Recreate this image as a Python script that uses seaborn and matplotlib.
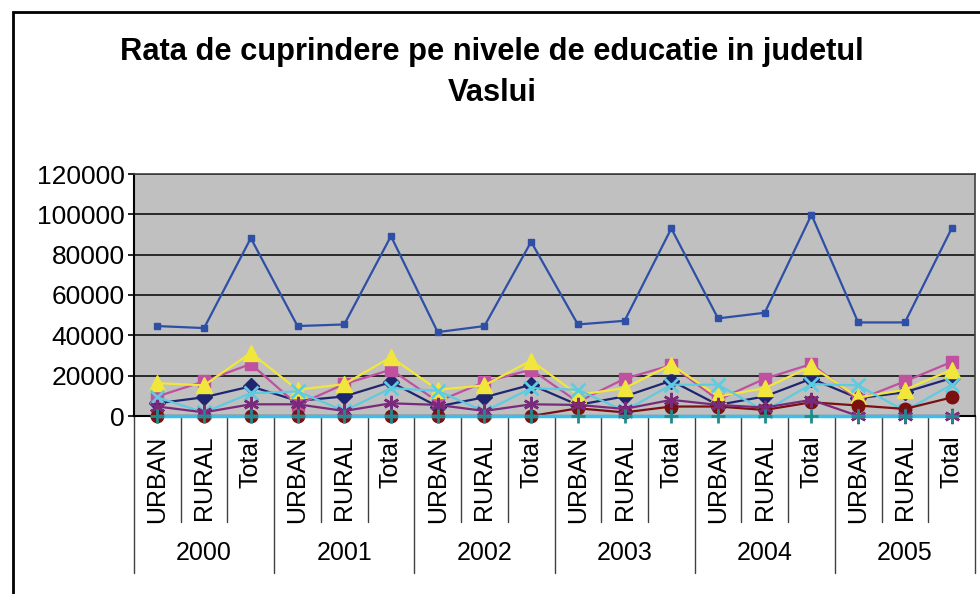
import matplotlib
matplotlib.use("Agg")
import matplotlib.pyplot as plt
import matplotlib.patches as mpatches
import numpy as np
import pandas as pd
import seaborn as sns

# Data
years = ["2000", "2001", "2002", "2003", "2004", "2005"]
areas = ["URBAN", "RURAL", "Total"]

total = [44600, 43600, 88200, 44600, 45400, 89200, 41600, 44600, 86400,
         45400, 47200, 93000, 48400, 51200, 99800, 46400, 46400, 93000]
navy = [6300, 9300, 14700, 7500, 9700, 16800, 4700, 9300, 15500,
        5500, 9700, 17500, 5500, 9700, 18500, 8800, 11800, 18800]
magenta = [9700, 17200, 25800, 5500, 15800, 23000, 7200, 16800, 23000,
           7000, 18500, 25200, 8000, 18500, 25800, 8000, 17200, 26800]
yellow = [16300, 15200, 31300, 13000, 15800, 29200, 13000, 15200, 27500,
          10500, 13800, 25500, 9700, 13800, 24700, 9200, 13000, 23000]
cyan = [9200, 1800, 11300, 12200, 2500, 13800, 12500, 2200, 13800,
        13000, 2500, 15500, 15500, 2500, 15800, 15200, 2500, 15500]
purple = [4700, 1800, 5800, 5800, 2500, 6300, 5500, 2500, 5800,
          5500, 3500, 8000, 5500, 4200, 8000, 0, 0, 0]
maroon = [0, 0, 0, 0, 0, 0, 0, 0, 0,
          3800, 1800, 4700, 4700, 3000, 6800, 5200, 3500, 9200]
teal = [0] * 18

series = [
    ("navy", navy, "#1F2670", "D", 8, 1.0),
    ("magenta", magenta, "#C050A0", "s", 9, 1.0),
    ("yellow", yellow, "#F0E63C", "^", 11, 1.0),
    ("cyan", cyan, "#5FCBE0", "x", 10, 2.0),
    ("maroon", maroon, "#7A1010", "o", 9, 1.0),
    ("purple", purple, "#7A2A7A", (6, 2, 0), 11, 1.8),
    ("teal", teal, "#3DBDE9", "+", 10, 2.0),
    ("total", total, "#2E4FA6", "s", 4.5, 1.0),
]

sns.set_style("white")
plt.rcParams["font.family"] = ["Liberation Sans", "DejaVu Sans"]
plt.rcParams["text.color"] = "black"
plt.rcParams["xtick.color"] = "black"
plt.rcParams["ytick.color"] = "black"

fig = plt.figure(figsize=(9.8, 5.94), dpi=100)
ax = fig.add_axes([134 / 980, 1 - 416 / 594, 841 / 980, 242 / 594])
ax.set_facecolor("#C0C0C0")

x = np.arange(len(years) * len(areas))
for name, vals, color, marker, msize, mew in series:
    df = pd.DataFrame({"x": x, "y": vals})
    mcolor = "#1E8C8C" if name == "teal" else color
    lw = 2.5 if name == "teal" else 1.6
    sns.lineplot(data=df, x="x", y="y", ax=ax, color=color, lw=lw,
                 marker=marker, markersize=msize, markeredgewidth=mew,
                 markerfacecolor=mcolor, markeredgecolor=mcolor,
                 clip_on=False, zorder=3)

ax.set_xlim(-0.5, len(x) - 0.5)
ax.set_ylim(0, 120000)
ax.set_yticks(np.arange(0, 120001, 20000))
ax.set_yticklabels([str(v) for v in range(0, 120001, 20000)], fontsize=19)
ax.yaxis.grid(True, color="#101010", lw=1.2)
ax.set_axisbelow(True)
ax.tick_params(axis="y", length=4.5, width=1.2, color="black", direction="out", left=True, pad=2)

ax.set_xticks(x)
ax.set_xticklabels(areas * len(years), rotation=90, fontsize=18, va="top")
ax.tick_params(axis="x", length=0, pad=14)
ax.set_xlabel("")
ax.set_ylabel("")

for side in ["left", "bottom"]:
    ax.spines[side].set_color("black")
    ax.spines[side].set_linewidth(1.5)
for side in ["top", "right"]:
    ax.spines[side].set_color("#404040")
    ax.spines[side].set_linewidth(1.2)

# category separators below the axis
trans = ax.get_xaxis_transform()
for b in np.arange(-0.5, len(x), 1.0):
    k = int(b + 0.5)
    low = -0.648 if k % 3 == 0 else -0.438
    ax.plot([b, b], [0, low], transform=trans, color="#404040", lw=1.0, clip_on=False)

for i, yr in enumerate(years):
    ax.text(i * 3 + 1, -0.566, yr, transform=trans, ha="center", va="center", fontsize=18)

# title
fig.text(0.502, 1 - 52 / 594, "Rata de cuprindere pe nivele de educatie in judetul",
         ha="center", va="center", fontsize=22.2, fontweight="bold")
fig.text(0.502, 1 - 93 / 594, "Vaslui", ha="center", va="center", fontsize=22.2, fontweight="bold")

# chart frame
fig.patches.append(mpatches.Rectangle((13 / 980, -0.2), 1.5, 1.2 - 12 / 594,
                                      transform=fig.transFigure, fill=False,
                                      edgecolor="black", lw=2))

fig.savefig("out.png", dpi=100)
